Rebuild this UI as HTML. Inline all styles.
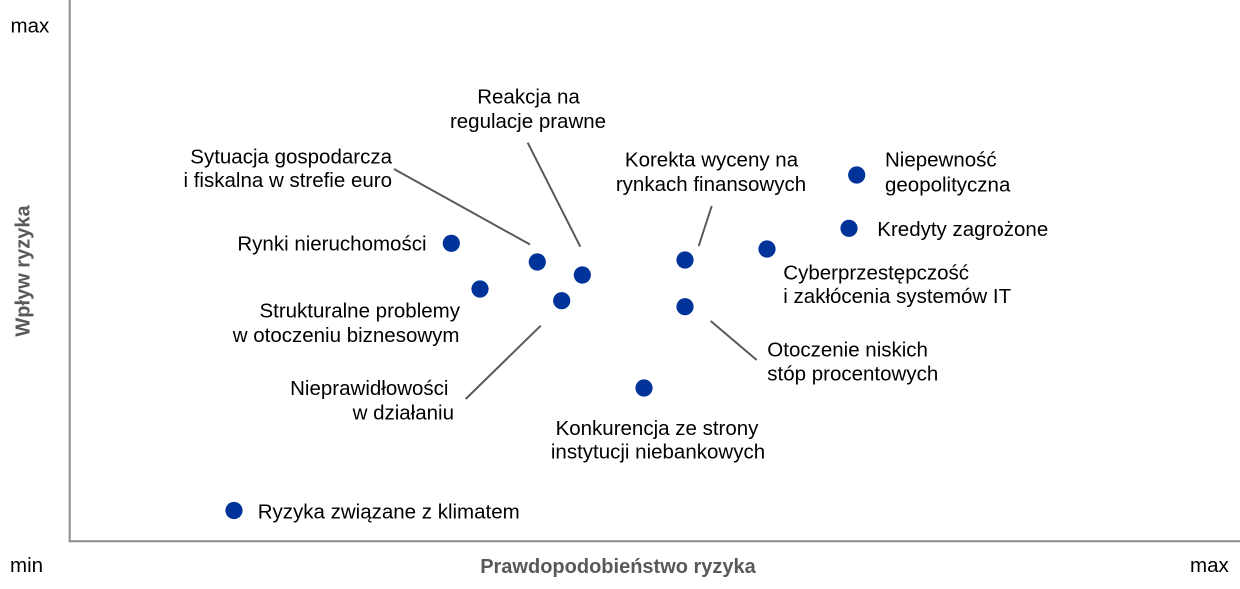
<!DOCTYPE html>
<html>
<head>
<meta charset="utf-8">
<style>
  html, body { margin: 0; padding: 0; background: #ffffff; }
  body { width: 1240px; height: 589px; overflow: hidden; }
  svg { display: block; }
  text { font-family: "Liberation Sans", Arial, sans-serif; font-size: 20.5px; fill: #000000; }
  .ax { font-weight: bold; fill: #595959; font-size: 20px; }
</style>
</head>
<body>
<svg width="1240" height="589" viewBox="0 0 1240 589" xmlns="http://www.w3.org/2000/svg">
  <!-- axes -->
  <line x1="69.7" y1="0" x2="69.7" y2="542.3" stroke="#8c8c8c" stroke-width="2"/>
  <line x1="68.7" y1="541.3" x2="1240" y2="541.3" stroke="#8c8c8c" stroke-width="2"/>

  <!-- axis labels -->
  <text x="10.5" y="32.3">max</text>
  <text x="10" y="572">min</text>
  <text x="1190" y="572">max</text>
  <text class="ax" x="618" y="573" text-anchor="middle">Prawdopodobieństwo ryzyka</text>
  <text class="ax" transform="translate(29.5,271) rotate(-90)" text-anchor="middle">Wpływ ryzyka</text>

  <!-- leader lines -->
  <g stroke="#595959" stroke-width="2" fill="none">
    <line x1="394" y1="169" x2="530" y2="244.5"/>
    <line x1="527.7" y1="142.7" x2="580.3" y2="246.7"/>
    <line x1="711.7" y1="206" x2="698.7" y2="246"/>
    <line x1="710.7" y1="321" x2="756.7" y2="360"/>
    <line x1="540.7" y1="325.7" x2="465.7" y2="399"/>
  </g>

  <!-- dots -->
  <g fill="#003399">
    <circle cx="856.7" cy="175" r="8.6"/>
    <circle cx="849" cy="228.3" r="8.6"/>
    <circle cx="767" cy="249" r="8.6"/>
    <circle cx="685" cy="260" r="8.6"/>
    <circle cx="685" cy="306.7" r="8.6"/>
    <circle cx="451.3" cy="243.3" r="8.6"/>
    <circle cx="537.3" cy="262" r="8.6"/>
    <circle cx="582.3" cy="275" r="8.6"/>
    <circle cx="480" cy="289" r="8.6"/>
    <circle cx="561.7" cy="300.7" r="8.6"/>
    <circle cx="644" cy="388" r="8.6"/>
    <circle cx="234" cy="510.5" r="8.6"/>
  </g>

  <!-- labels -->
  <text x="528.5" y="103.3" text-anchor="middle">Reakcja na</text>
  <text x="528" y="128" text-anchor="middle">regulacje prawne</text>

  <text x="711.5" y="166.7" text-anchor="middle">Korekta wyceny na</text>
  <text x="711" y="191" text-anchor="middle">rynkach finansowych</text>

  <text x="392" y="163.5" text-anchor="end">Sytuacja gospodarcza</text>
  <text x="392" y="187" text-anchor="end">i fiskalna w strefie euro</text>

  <text x="426.5" y="250.5" text-anchor="end">Rynki nieruchomości</text>

  <text x="460" y="317.3" text-anchor="end">Strukturalne problemy</text>
  <text x="459.5" y="342" text-anchor="end">w otoczeniu biznesowym</text>

  <text x="448.5" y="395" text-anchor="end">Nieprawidłowości</text>
  <text x="454" y="419.3" text-anchor="end">w działaniu</text>

  <text x="657" y="435" text-anchor="middle">Konkurencja ze strony</text>
  <text x="658" y="458.5" text-anchor="middle">instytucji niebankowych</text>

  <text x="767.3" y="356.7">Otoczenie niskich</text>
  <text x="767.3" y="380.5">stóp procentowych</text>

  <text x="783.3" y="279.3">Cyberprzestępczość</text>
  <text x="783.3" y="302.8">i zakłócenia systemów IT</text>

  <text x="885" y="166.7">Niepewność</text>
  <text x="885" y="191.5">geopolityczna</text>

  <text x="877.3" y="236">Kredyty zagrożone</text>

  <text x="257.7" y="518.3">Ryzyka związane z klimatem</text>
</svg>
</body>
</html>
